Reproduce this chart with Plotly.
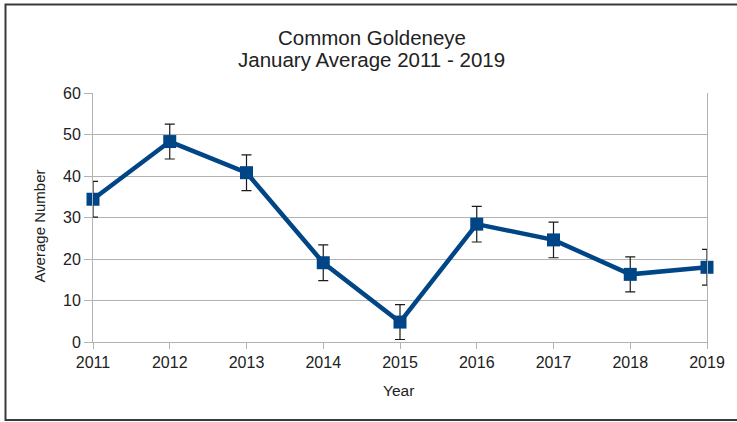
import plotly.graph_objects as go

years = [2011, 2012, 2013, 2014, 2015, 2016, 2017, 2018, 2019]
avg_number = [34.4, 48.3, 40.8, 19.1, 4.8, 28.4, 24.6, 16.3, 18.0]
err = [4.3, 4.2, 4.3, 4.3, 4.2, 4.3, 4.3, 4.2, 4.3]
y_ticks = [0, 10, 20, 30, 40, 50, 60]
title_lines = ["Common Goldeneye", "January Average 2011 - 2019"]

W, H = 737, 422
L, R, T, B = 93, 23, 93, 80
pw, ph = W - L - R, H - T - B


def px_x(px):
    return (px - L) / pw


def px_y(py):
    return (H - B - py) / ph


fig = go.Figure()
fig.add_trace(go.Scatter(
    x=years, y=avg_number,
    mode="lines+markers",
    line=dict(color="#004586", width=4.5),
    marker=dict(symbol="square", size=13, color="#004586"),
    error_y=dict(type="data", array=err, visible=True,
                 color="#1a1a1a", thickness=1.2, width=5),
    cliponaxis=False,
    showlegend=False,
))

font = "Liberation Sans, Arial, sans-serif"
txt = "#222222"

annotations = [
    dict(text=title_lines[0], x=px_x(375), y=px_y(37), font=dict(size=20.5)),
    dict(text=title_lines[1], x=px_x(375), y=px_y(60), font=dict(size=20.5)),
    dict(text="Year", x=px_x(402), y=px_y(390), font=dict(size=15.5)),
    dict(text="Average Number", x=px_x(38.5), y=px_y(226.5), font=dict(size=15), textangle=-90),
]
for a in annotations:
    a.update(xref="paper", yref="paper", xanchor="center", yanchor="middle", showarrow=False)
    a["font"].update(family=font, color=txt)

fig.update_layout(
    width=W, height=H,
    margin=dict(l=L, r=R, t=T, b=B),
    paper_bgcolor="white", plot_bgcolor="white",
    font=dict(family=font, color=txt, size=16),
    xaxis=dict(
        range=[2011, 2019], tickvals=years, ticktext=[str(y) for y in years],
        showgrid=False, zeroline=False,
        showline=True, linecolor="#b3b3b3", linewidth=1,
        ticks="outside", ticklen=6, tickcolor="#b3b3b3",
        tickfont=dict(size=16, color=txt),
    ),
    yaxis=dict(
        range=[0, 60], tickvals=y_ticks,
        showgrid=True, gridcolor="#b3b3b3", gridwidth=1, zeroline=False,
        showline=True, linecolor="#b3b3b3", linewidth=1, mirror=True,
        ticks="outside", ticklen=8, tickcolor="#b3b3b3",
        tickfont=dict(size=16, color=txt),
    ),
    annotations=annotations,
    shapes=[dict(
        type="rect", xref="paper", yref="paper",
        x0=px_x(4.5), x1=px_x(760),
        y0=px_y(420), y1=px_y(4.5),
        line=dict(color="#3a3a3a", width=2), fillcolor="rgba(0,0,0,0)",
        layer="below",
    )],
)

fig.write_html("out.html")
